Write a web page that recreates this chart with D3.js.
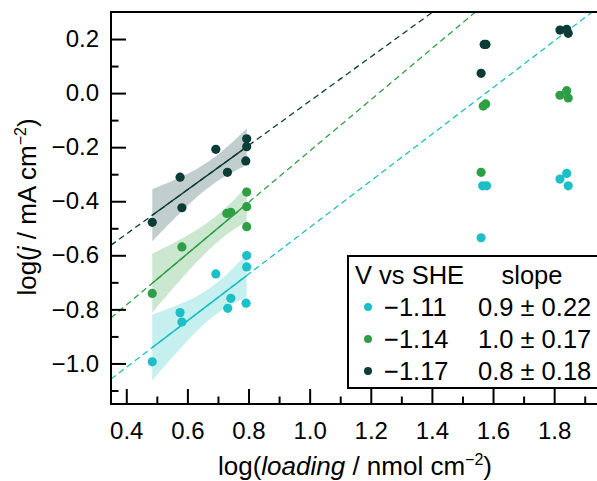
<!DOCTYPE html>
<html>
<head>
<meta charset="utf-8">
<script src="https://cdn.jsdelivr.net/npm/d3@7"></script>
<style>
  body { margin: 0; background: #fff; }
  text { font-family: "Liberation Sans", Arial, sans-serif; }
</style>
</head>
<body>
<svg id="chart"></svg>
<script>
// data
const potentials = ["−1.11", "−1.14", "−1.17"];
const slopeLabels = ["0.9 ± 0.22", "1.0 ± 0.17", "0.8 ± 0.18"];
const colors = ["#1bbfc5", "#2f9f45", "#0b3c38"];

// low loading points (used for the fit)
const fitX111 = [0.485, 0.576, 0.582, 0.693, 0.732, 0.742, 0.792, 0.794, 0.794];
const fitY111 = [-0.994, -0.812, -0.847, -0.669, -0.796, -0.759, -0.777, -0.601, -0.643];
const fitX114 = [0.485, 0.582, 0.729, 0.742, 0.794, 0.794, 0.794];
const fitY114 = [-0.741, -0.569, -0.445, -0.441, -0.366, -0.420, -0.494];
const fitX117 = [0.485, 0.576, 0.582, 0.693, 0.731, 0.794, 0.794, 0.791];
const fitY117 = [-0.478, -0.311, -0.424, -0.208, -0.293, -0.169, -0.198, -0.251];

// high loading points (not fitted)
const hiX111 = [1.566, 1.579, 1.561, 1.819, 1.841, 1.846];
const hiY111 = [-0.343, -0.343, -0.535, -0.318, -0.297, -0.343];
const hiX114 = [1.568, 1.576, 1.561, 1.819, 1.841, 1.846];
const hiY114 = [-0.048, -0.040, -0.293, -0.008, 0.009, -0.018];
const hiX117 = [1.571, 1.577, 1.561, 1.819, 1.841, 1.846];
const hiY117 = [0.180, 0.180, 0.073, 0.233, 0.236, 0.221];

const xMajor = [0.4, 0.6, 0.8, 1.0, 1.2, 1.4, 1.6, 1.8];
const xMinor = [0.5, 0.7, 0.9, 1.1, 1.3, 1.5, 1.7, 1.9];
const yMajor = [-1.0, -0.8, -0.6, -0.4, -0.2, 0.0, 0.2];
const yMinor = [-1.1, -0.9, -0.7, -0.5, -0.3, -0.1, 0.1];

// two-sided 95% t values by degrees of freedom
const t95 = {5: 2.571, 6: 2.447, 7: 2.365, 8: 2.306};

const width = 597, height = 481;
const margin = {top: 12, right: -3, bottom: 77, left: 111};

const svg = d3.select("#chart").attr("width", width).attr("height", height);

const x = d3.scaleLinear().domain([0.35, 1.95]).range([margin.left, width - margin.right]);
const y = d3.scaleLinear().domain([-1.15, 0.30]).range([height - margin.bottom, margin.top]);

svg.append("clipPath").attr("id", "plotclip")
  .append("rect")
  .attr("x", x(0.35)).attr("y", y(0.30))
  .attr("width", x(1.95) - x(0.35)).attr("height", y(-1.15) - y(0.30));

const series = [
  {fx: fitX111, fy: fitY111, hx: hiX111, hy: hiY111},
  {fx: fitX114, fy: fitY114, hx: hiX114, hy: hiY114},
  {fx: fitX117, fy: fitY117, hx: hiX117, hy: hiY117}
];

// least squares fit with 95% confidence band
function fit(xs, ys) {
  const n = xs.length;
  const mx = d3.mean(xs), my = d3.mean(ys);
  let sxx = 0, sxy = 0;
  xs.forEach((v, i) => { sxx += (v - mx) ** 2; sxy += (v - mx) * (ys[i] - my); });
  const b = sxy / sxx, a = my - b * mx;
  let sse = 0;
  xs.forEach((v, i) => { sse += (ys[i] - a - b * v) ** 2; });
  const s = Math.sqrt(sse / (n - 2));
  const t = t95[n - 2];
  const band = d3.range(0, 41).map(k => {
    const xv = d3.min(xs) + (d3.max(xs) - d3.min(xs)) * k / 40;
    const se = s * Math.sqrt(1 / n + (xv - mx) ** 2 / sxx);
    return {x: xv, y: a + b * xv, lo: a + b * xv - t * se, hi: a + b * xv + t * se};
  });
  return {a, b, band, xmin: d3.min(xs), xmax: d3.max(xs)};
}

const plot = svg.append("g").attr("clip-path", "url(#plotclip)");

const area = d3.area().x(d => x(d.x)).y0(d => y(d.lo)).y1(d => y(d.hi));
const line = d3.line().x(d => x(d[0])).y(d => y(d[1]));

const fits = series.map(s => fit(s.fx, s.fy));

// bands
fits.forEach((f, i) => {
  plot.append("path").attr("d", area(f.band))
    .attr("fill", colors[i]).attr("fill-opacity", 0.25);
});
// extrapolated dashed lines
fits.forEach((f, i) => {
  plot.append("path")
    .attr("d", line([[0.35, f.a + f.b * 0.35], [1.95, f.a + f.b * 1.95]]))
    .attr("stroke", colors[i]).attr("stroke-width", 1.3)
    .attr("stroke-dasharray", "6,4").attr("fill", "none");
});
// fitted solid lines
fits.forEach((f, i) => {
  plot.append("path")
    .attr("d", line([[f.xmin, f.a + f.b * f.xmin], [f.xmax, f.a + f.b * f.xmax]]))
    .attr("stroke", colors[i]).attr("stroke-width", 1.5).attr("fill", "none");
});
// points
series.forEach((s, i) => {
  const pts = s.fx.map((v, k) => [v, s.fy[k]]).concat(s.hx.map((v, k) => [v, s.hy[k]]));
  plot.selectAll(".p" + i).data(pts).enter().append("circle")
    .attr("cx", d => x(d[0])).attr("cy", d => y(d[1])).attr("r", 4.6)
    .attr("fill", colors[i]);
});

// axes with inward ticks
const fontSize = 24;
function styleAxis(g) {
  g.select(".domain").remove();
  g.selectAll("line").attr("stroke", "#000").attr("stroke-width", 2);
  g.selectAll("text").attr("font-size", fontSize).attr("fill", "#000")
    .attr("font-family", "Liberation Sans, Arial, sans-serif");
}
const fmt = v => d3.format(".1f")(v).replace("-", "−");

svg.append("g").attr("transform", `translate(0,${y(-1.15)})`)
  .call(d3.axisBottom(x).tickValues(xMajor).tickFormat(fmt).tickSize(-15).tickPadding(18))
  .call(styleAxis);
svg.append("g").attr("transform", `translate(0,${y(-1.15)})`)
  .call(d3.axisBottom(x).tickValues(xMinor).tickFormat("").tickSize(-7.5))
  .call(styleAxis);
svg.append("g").attr("transform", `translate(${x(0.35)},0)`)
  .call(d3.axisLeft(y).tickValues(yMajor).tickFormat(fmt).tickSize(-15).tickPadding(12))
  .call(styleAxis);
svg.append("g").attr("transform", `translate(${x(0.35)},0)`)
  .call(d3.axisLeft(y).tickValues(yMinor).tickFormat("").tickSize(-7.5))
  .call(styleAxis);

// frame
svg.append("rect")
  .attr("x", x(0.35)).attr("y", y(0.30))
  .attr("width", x(1.95) - x(0.35)).attr("height", y(-1.15) - y(0.30))
  .attr("fill", "none").attr("stroke", "#000").attr("stroke-width", 2);

// axis titles
const xt = svg.append("text").attr("x", 355).attr("y", 475)
  .attr("text-anchor", "middle").attr("font-size", 26);
xt.append("tspan").text("log(");
xt.append("tspan").attr("font-style", "italic").text("loading");
xt.append("tspan").text(" / nmol cm");
xt.append("tspan").attr("font-size", 16).attr("dy", -10).text("−2");
xt.append("tspan").attr("dy", 10).text(")");

const yt = svg.append("text")
  .attr("transform", `translate(36,207) rotate(-90)`)
  .attr("text-anchor", "middle").attr("font-size", 26);
yt.append("tspan").text("log(");
yt.append("tspan").attr("font-style", "italic").text("j");
yt.append("tspan").text(" / mA cm");
yt.append("tspan").attr("font-size", 16).attr("dy", -10).text("−2");
yt.append("tspan").attr("dy", 10).text(")");

// legend
const lg = svg.append("g");
lg.append("rect").attr("x", 348).attr("y", 256).attr("width", 260).attr("height", 132)
  .attr("fill", "#fff").attr("stroke", "#000").attr("stroke-width", 2);
lg.append("text").attr("x", 355).attr("y", 284).attr("font-size", 25.5).text("V vs SHE");
lg.append("text").attr("x", 532).attr("y", 284).attr("font-size", 25.5)
  .attr("text-anchor", "middle").text("slope");
potentials.forEach((p, i) => {
  const ry = 316 + i * 32;
  lg.append("circle").attr("cx", 368).attr("cy", ry - 9).attr("r", 4).attr("fill", colors[i]);
  lg.append("text").attr("x", 384).attr("y", ry).attr("font-size", 25.5).text(p);
  lg.append("text").attr("x", 478).attr("y", ry).attr("font-size", 25.5).text(slopeLabels[i]);
});
</script>
</body>
</html>
